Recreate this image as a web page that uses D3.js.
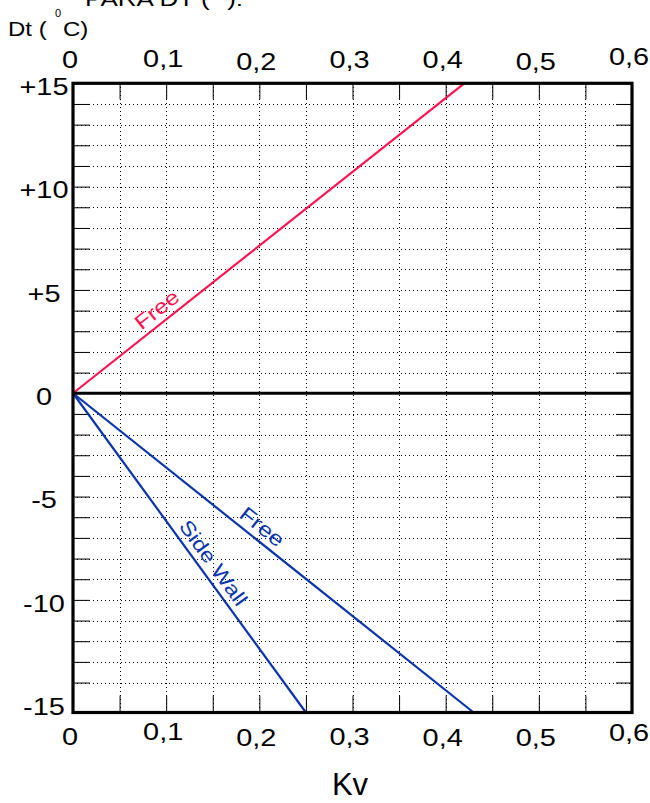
<!DOCTYPE html>
<html>
<head>
<meta charset="utf-8">
<script src="https://cdn.jsdelivr.net/npm/d3@7"></script>
<style>
  body { margin: 0; background: #fff; }
  text { font-family: "Liberation Sans", Arial, Helvetica, sans-serif; fill: #000; }
</style>
</head>
<body>
<script>
// ---- data ----
const xTickValues = [0, 0.1, 0.2, 0.3, 0.4, 0.5, 0.6];
const xTickLabels = ["0", "0,1", "0,2", "0,3", "0,4", "0,5", "0,6"];
const yTickValues = [15, 10, 5, 0, -5, -10, -15];
const yTickLabels = ["+15", "+10", "+5", "0", "-5", "-10", "-15"];

// lines (Kv, Dt); cooling lines run to the lower frame
const kvFreeHeat = [0, 0.42];
const dtFreeHeat = [0, 15];
const kvFreeCool = [0, 0.43];
const dtFreeCool = [0, -15.45];
const kvSideWall = [0, 0.25];
const dtSideWall = [0, -15.45];

// label positions along lines (Kv)
const labelNames = ["Free", "Free", "Side Wall"];
const labelKv = [0.099, 0.194, 0.139];

// ---- layout ----
const W = 650, H = 803;
const pLeft = 73, pRight = 632, pTop = 83.3, pBottom = 712.5;
const yMin = -15.45, yMax = 15;
const xDomain = [0, 0.6];

const x = d3.scaleLinear().domain(xDomain).range([pLeft, pRight]);
const y = d3.scaleLinear().domain([yMin, yMax]).range([pBottom, pTop]);

const svg = d3.select("body").append("svg").attr("width", W).attr("height", H);

const minorX = d3.range(1, 12).map(i => +(i * 0.05).toFixed(2));
const minorY = d3.range(-14, 15).filter(v => v !== 0);

// dotted grid
svg.append("g").selectAll("line").data(minorX).join("line")
  .attr("x1", d => Math.round(x(d)) + 0.5).attr("x2", d => Math.round(x(d)) + 0.5)
  .attr("y1", pTop).attr("y2", pBottom)
  .attr("stroke", "#000").attr("stroke-width", 1)
  .attr("stroke-dasharray", "1,3").attr("shape-rendering", "crispEdges");
svg.append("g").selectAll("line").data(minorY).join("line")
  .attr("x1", pLeft).attr("x2", pRight)
  .attr("y1", d => Math.round(y(d)) + 0.5).attr("y2", d => Math.round(y(d)) + 0.5)
  .attr("stroke", "#000").attr("stroke-width", 1)
  .attr("stroke-dasharray", "1,3").attr("shape-rendering", "crispEdges");

// inner ticks via d3 axes
function tickAxis(axis, tr) {
  const g = svg.append("g").attr("transform", tr).call(axis);
  g.select(".domain").remove();
  g.selectAll(".tick line").attr("stroke", "#000").attr("stroke-width", 1);
  g.selectAll(".tick text").remove();
}
tickAxis(d3.axisTop(x).tickValues(minorX).tickSize(-16).tickFormat(""), `translate(0,${pTop})`);
tickAxis(d3.axisBottom(x).tickValues(minorX).tickSize(-17).tickFormat(""), `translate(0,${pBottom})`);
tickAxis(d3.axisLeft(y).tickValues(minorY).tickSize(-17).tickFormat(""), `translate(${pLeft},0)`);
tickAxis(d3.axisRight(y).tickValues(minorY).tickSize(-16).tickFormat(""), `translate(${pRight},0)`);

// data lines
const line = d3.line().x(d => x(d[0])).y(d => y(d[1]));
const series = [
  { kv: kvFreeHeat, dt: dtFreeHeat, color: "#ff1450" },
  { kv: kvFreeCool, dt: dtFreeCool, color: "#0b35a8" },
  { kv: kvSideWall, dt: dtSideWall, color: "#0b35a8" }
];
svg.append("g").selectAll("path").data(series).join("path")
  .attr("d", s => line(s.kv.map((k, i) => [k, s.dt[i]])))
  .attr("fill", "none").attr("stroke", s => s.color).attr("stroke-width", 2.2);

// zero line and frame
svg.append("line").attr("x1", pLeft).attr("x2", pRight)
  .attr("y1", y(0)).attr("y2", y(0))
  .attr("stroke", "#000").attr("stroke-width", 3);
svg.append("rect").attr("x", pLeft).attr("y", pTop)
  .attr("width", pRight - pLeft).attr("height", pBottom - pTop)
  .attr("fill", "none").attr("stroke", "#000").attr("stroke-width", 3.2);

// line labels, rotated along their lines
series.forEach((s, i) => {
  const k = labelKv[i];
  const slope = (s.dt[1] - s.dt[0]) / (s.kv[1] - s.kv[0]);
  const dt = s.dt[0] + slope * (k - s.kv[0]);
  const px = x(k), py = y(dt);
  const ang = Math.atan2(y(s.dt[1]) - y(s.dt[0]), x(s.kv[1]) - x(s.kv[0])) * 180 / Math.PI;
  svg.append("g")
    .attr("transform", `translate(${px},${py}) rotate(${ang}) scale(1.2,1)`)
    .append("text")
    .attr("x", 0).attr("y", -6.5)
    .attr("text-anchor", "middle")
    .attr("font-size", i === 2 ? 20 : 20.5)
    .style("fill", s.color)
    .text(labelNames[i]);
});

// tick labels
const topNudge = [0, -1, 2, 0, 0, 2, -3];
const botNudge = [0, -5, 1, 0, 1, 1, -4];
const tickFs = 24.5, sx = 1.18;
xTickValues.forEach((v, i) => {
  svg.append("g").attr("transform", `translate(${x(v) - 3},${68 + topNudge[i]}) scale(${sx},1)`)
    .append("text").attr("text-anchor", "middle").attr("font-size", tickFs).text(xTickLabels[i]);
  svg.append("g").attr("transform", `translate(${x(v) - 3},${745 + botNudge[i]}) scale(${sx},1)`)
    .append("text").attr("text-anchor", "middle").attr("font-size", tickFs).text(xTickLabels[i]);
});
yTickValues.forEach((v, i) => {
  const yy = y(v);
  svg.append("g").attr("transform", `translate(44,${yy + 11.7}) scale(${sx},1)`)
    .append("text").attr("text-anchor", "middle").attr("font-size", tickFs).text(yTickLabels[i]);
});

// axis titles
svg.append("g").attr("transform", "translate(8,36) scale(1.2,1)")
  .append("text").attr("font-size", 20).text("Dt (");
svg.append("text").attr("x", 55).attr("y", 17).attr("font-size", 11).text("0");
svg.append("g").attr("transform", "translate(63,36) scale(1.2,1)")
  .append("text").attr("font-size", 20).text("C)");

svg.append("text").attr("x", 350).attr("y", 795)
  .attr("text-anchor", "middle").attr("font-size", 31).text("Kv");

// cut-off title at the very top (as in the reference)
svg.append("text").attr("x", 85).attr("y", 6).attr("font-size", 20)
  .attr("textLength", 158).attr("lengthAdjust", "spacingAndGlyphs")
  .text("PARA DT  ( °):");
</script>
</body>
</html>
